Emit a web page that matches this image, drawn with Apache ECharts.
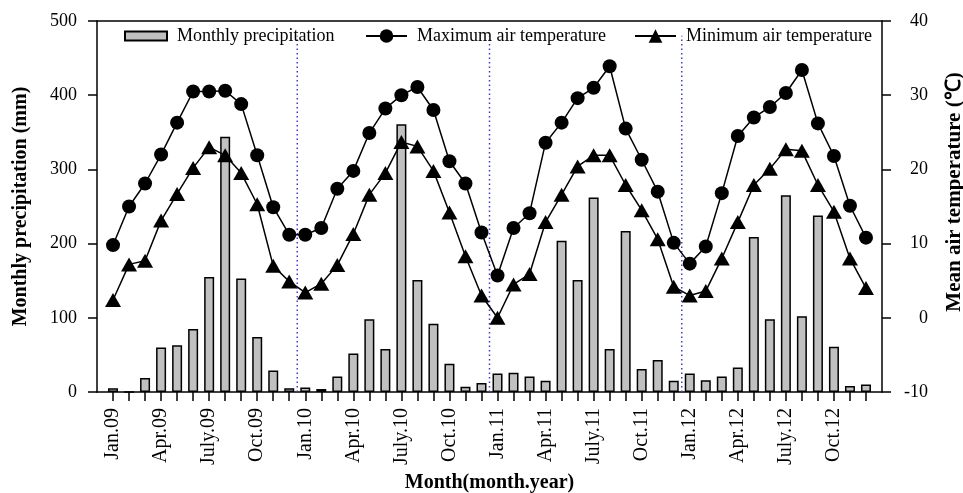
<!DOCTYPE html>
<html>
<head>
<meta charset="utf-8">
<script src="https://cdn.jsdelivr.net/npm/echarts@6/dist/echarts.min.js"></script>
<style>html,body{margin:0;padding:0;background:#fff;}#c{width:963px;height:493px;}</style>
</head>
<body>
<div id="c"></div>
<script>
const months = ['Jan.09','Feb.09','Mar.09','Apr.09','May.09','Jun.09','July.09','Aug.09','Sep.09','Oct.09','Nov.09','Dec.09',
  'Jan.10','Feb.10','Mar.10','Apr.10','May.10','Jun.10','July.10','Aug.10','Sep.10','Oct.10','Nov.10','Dec.10',
  'Jan.11','Feb.11','Mar.11','Apr.11','May.11','Jun.11','July.11','Aug.11','Sep.11','Oct.11','Nov.11','Dec.11',
  'Jan.12','Feb.12','Mar.12','Apr.12','May.12','Jun.12','July.12','Aug.12','Sep.12','Oct.12','Nov.12','Dec.12'];
const labeledMonths = ['Jan.09','Apr.09','July.09','Oct.09','Jan.10','Apr.10','July.10','Oct.10','Jan.11','Apr.11','July.11','Oct.11','Jan.12','Apr.12','July.12','Oct.12'];
const precipitation = [5,0,19,60,63,85,155,344,153,74,29,5,
  6,4,21,52,98,58,361,151,92,38,7,12,
  25,26,21,15,204,151,262,58,217,31,43,15,
  25,16,21,33,209,98,265,102,238,61,8,10];
const maxTemp = [9.8,15.0,18.1,22.0,26.3,30.5,30.5,30.6,28.8,21.9,14.9,11.2,
  11.2,12.1,17.4,19.8,24.9,28.2,30.0,31.1,28.0,21.1,18.1,11.5,
  5.7,12.1,14.1,23.6,26.3,29.6,31.0,33.9,25.5,21.3,17.0,10.1,
  7.3,9.6,16.8,24.5,27.0,28.4,30.3,33.4,26.2,21.8,15.1,10.8];
const minTemp = [2.4,7.2,7.7,13.1,16.7,20.2,23.0,21.9,19.5,15.3,7.0,4.9,
  3.4,4.6,7.1,11.3,16.6,19.5,23.7,23.1,19.8,14.2,8.3,3.0,
  0.0,4.5,5.9,12.9,16.6,20.4,21.9,21.9,17.9,14.5,10.6,4.2,
  3.0,3.6,8.0,12.9,17.9,20.1,22.7,22.5,17.9,14.3,8.0,4.0];
const yearBoundaries = [12.5, 24.5, 36.5];
const boundaryTop = 480;
const rightTitle = 'Mean air temperature (℃)';

const cats = [''].concat(months, ['']);
const pad = arr => [null].concat(arr, [null]);
const font = 'Liberation Serif, Times New Roman, serif';
const axisLineStyle = { color: '#000', width: 1.5 };

const chart = echarts.init(document.getElementById('c'));
const boundarySeries = yearBoundaries.map(b => ({
  type: 'line', xAxisIndex: 1, yAxisIndex: 0, silent: true, symbol: 'none', z: 1,
  data: [[b, 0], [b, boundaryTop]],
  lineStyle: { color: '#3a3ad8', width: 1.5, type: [1.5, 3] }
}));
chart.setOption({
  animation: false,
  grid: { left: 97, right: 81, top: 21, bottom: 101, outerBoundsMode: 'none', containLabel: false },
  legend: [
    { data: ['Monthly precipitation'], left: 124, top: 27, padding: 0, itemWidth: 42, itemHeight: 9, icon: 'rect',
      textStyle: { fontFamily: font, fontSize: 18, color: '#000', padding: [0,0,0,5] } },
    { data: ['Maximum air temperature'], left: 365, top: 27, padding: 0, itemWidth: 41, itemHeight: 17,
      textStyle: { fontFamily: font, fontSize: 18, color: '#000', padding: [0,0,0,5] } },
    { data: ['Minimum air temperature'], left: 634, top: 27, padding: 0, itemWidth: 41, itemHeight: 17,
      textStyle: { fontFamily: font, fontSize: 18, color: '#000', padding: [0,0,0,5] } }
  ],
  graphic: [
    { type: 'text', x: 955, y: 192, rotation: Math.PI / 2, silent: true,
      style: { text: rightTitle, font: 'bold 21px ' + font, fill: '#000', align: 'center', verticalAlign: 'middle' } }
  ],
  xAxis: [
    { type: 'category', data: cats, boundaryGap: false, position: 'bottom',
      axisLine: { onZero: false, lineStyle: axisLineStyle },
      axisTick: { show: true, length: 9, lineStyle: axisLineStyle, interval: (i) => i >= 1 && i <= months.length },
      axisLabel: { interval: (i, v) => labeledMonths.indexOf(v) >= 0, rotate: 90, margin: 16,
        fontFamily: font, fontSize: 20, color: '#000' },
      splitLine: { show: false },
      name: 'Month(month.year)', nameLocation: 'middle', nameGap: 81,
      nameTextStyle: { fontFamily: font, fontSize: 20, fontWeight: 'bold', color: '#000' } },
    { type: 'value', min: 0, max: 49, position: 'top',
      axisLine: { show: true, onZero: false, lineStyle: axisLineStyle }, axisTick: { show: false },
      axisLabel: { show: false }, splitLine: { show: false } }
  ],
  yAxis: [
    { type: 'value', min: 0, max: 500, interval: 100, position: 'left',
      axisLine: { show: true, onZero: false, lineStyle: axisLineStyle },
      axisTick: { show: true, length: 9, lineStyle: axisLineStyle },
      axisLabel: { margin: 20, fontFamily: font, fontSize: 18, color: '#000' },
      splitLine: { show: false },
      name: 'Monthly precipitation (mm)', nameLocation: 'middle', nameRotate: 90, nameGap: 66,
      nameTextStyle: { fontFamily: font, fontSize: 20, fontWeight: 'bold', color: '#000' } },
    { type: 'value', min: -10, max: 40, interval: 10, position: 'right',
      axisLine: { show: true, onZero: false, lineStyle: axisLineStyle },
      axisTick: { show: true, length: 9, lineStyle: axisLineStyle },
      axisLabel: { margin: 46, align: 'right', fontFamily: font, fontSize: 18, color: '#000' },
      splitLine: { show: false } }
  ],
  series: [
    { name: 'Monthly precipitation', type: 'bar', xAxisIndex: 0, yAxisIndex: 0, barWidth: 10, z: 2,
      data: pad(precipitation),
      itemStyle: { color: '#c0c0c0', borderColor: '#000', borderWidth: 1.5 } },
    { name: 'Maximum air temperature', type: 'line', xAxisIndex: 0, yAxisIndex: 1, z: 3,
      data: pad(maxTemp), symbol: 'circle', symbolSize: 14, showSymbol: true, showAllSymbol: true, connectNulls: false,
      itemStyle: { color: '#000' }, lineStyle: { color: '#000', width: 1.5 } },
    { name: 'Minimum air temperature', type: 'line', xAxisIndex: 0, yAxisIndex: 1, z: 3,
      data: pad(minTemp), symbol: 'triangle', symbolSize: [16, 14], showSymbol: true, showAllSymbol: true, connectNulls: false,
      itemStyle: { color: '#000' }, lineStyle: { color: '#000', width: 1.5 } }
  ].concat(boundarySeries)
});
</script>
</body>
</html>
